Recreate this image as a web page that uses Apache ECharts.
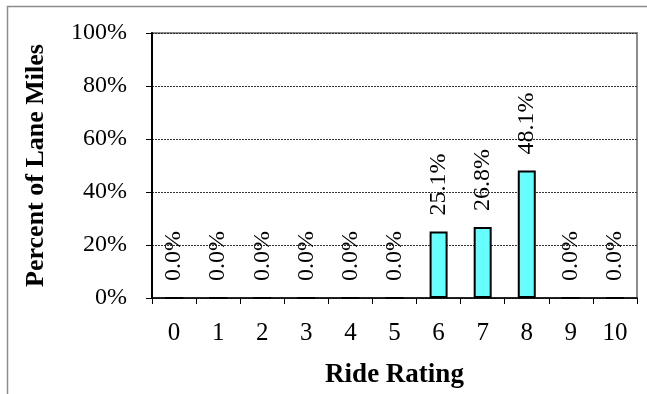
<!DOCTYPE html>
<html><head><meta charset="utf-8">
<script src="https://cdn.jsdelivr.net/npm/echarts@6/dist/echarts.min.js"></script>
<style>html,body{margin:0;padding:0;background:#fff}#c{width:647px;height:394px}</style>
</head><body><div id="c"></div>
<script>
var categories = ['0','1','2','3','4','5','6','7','8','9','10'];
var percentValues = [0, 0, 0, 0, 0, 0, 25.1, 26.8, 48.1, 0, 0];
var yTicks = [0, 20, 40, 60, 80, 100];

var FONT = '"Liberation Serif","Times New Roman",serif';
var chart = echarts.init(document.getElementById('c'), null, {renderer: 'canvas'});
chart.setOption({
  animation: false,
  backgroundColor: '#fff',
  textStyle: {fontFamily: FONT},
  graphic: [{
    type: 'rect', left: 5, top: 4, shape: {x: 0, y: 0, width: 700, height: 500},
    style: {fill: 'none', stroke: '#8c8c8c', lineWidth: 1.5}, silent: true, z: -1
  }],
  grid: {left: 152, right: 10, top: 33, bottom: 96, show: true, borderColor: '#8c8c8c', borderWidth: 2, backgroundColor: '#fff'},
  xAxis: {
    type: 'category', data: categories,
    name: 'Ride Rating', nameLocation: 'middle', nameGap: 64,
    nameTextStyle: {fontFamily: FONT, fontWeight: 'bold', fontSize: 27, color: '#000'},
    axisLine: {lineStyle: {color: '#000', width: 1.5}},
    axisTick: {show: true, length: 6, lineStyle: {color: '#000'}},
    axisLabel: {fontFamily: FONT, fontSize: 25, color: '#000', margin: 23}
  },
  yAxis: {
    type: 'value', min: yTicks[0], max: yTicks[yTicks.length - 1], interval: 20,
    name: 'Percent of Lane Miles', nameLocation: 'middle', nameGap: 103, nameRotate: 90,
    nameTextStyle: {fontFamily: FONT, fontWeight: 'bold', fontSize: 26, color: '#000'},
    axisLine: {show: true, lineStyle: {color: '#000', width: 2}},
    axisTick: {show: true, length: 6, lineStyle: {color: '#000'}},
    axisLabel: {fontFamily: FONT, fontSize: 24, color: '#000', margin: 25, formatter: '{value}%'},
    splitLine: {lineStyle: {color: '#333', type: [2, 1], width: 1}}
  },
  series: [{
    type: 'bar', data: percentValues, barWidth: 18,
    itemStyle: {color: '#66ffff', borderColor: '#000', borderWidth: 2},
    label: {
      show: true, position: 'top', rotate: 90, align: 'left', verticalAlign: 'middle', distance: 16,
      fontFamily: FONT, fontSize: 24, color: '#000',
      formatter: function (p) { return p.value.toFixed(1) + '%'; }
    }
  }]
});
</script></body></html>
